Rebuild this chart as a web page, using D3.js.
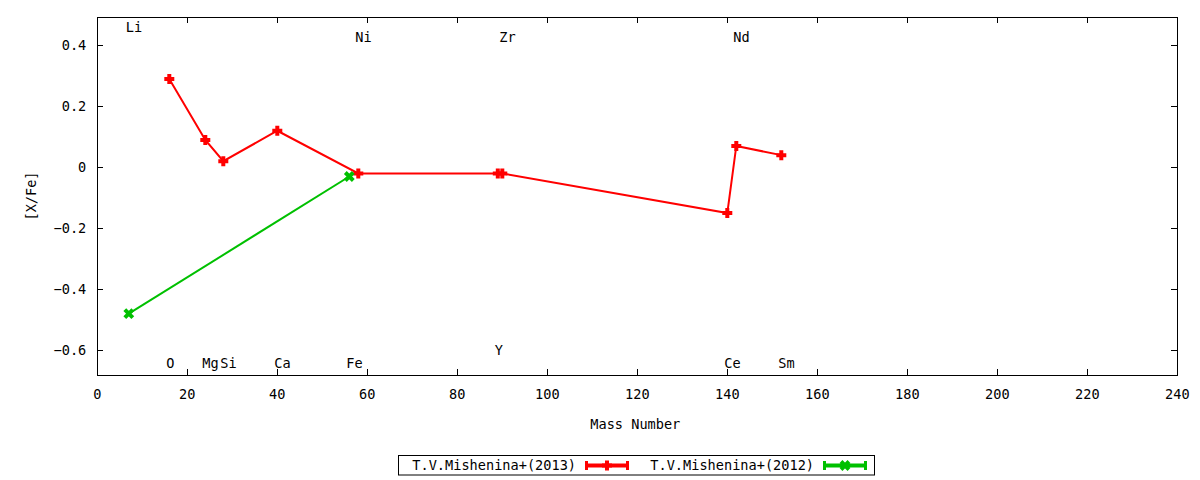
<!DOCTYPE html>
<html lang="en">
<head>
  <meta charset="UTF-8">
  <title>[X/Fe] vs Mass Number</title>
  <script src="https://d3js.org/d3.v7.min.js"></script>
  <style>
    body { margin: 0; background: white; }
    text { font-family: "DejaVu Sans Mono", monospace; font-size: 13.6px; fill: black; }
  </style>
</head>
<body>
  <script>
    // data
    var redMass = [16, 24, 28, 40, 58, 89, 90, 140, 142, 152];
    var redVal = [0.29, 0.09, 0.02, 0.12, -0.02, -0.02, -0.02, -0.15, 0.07, 0.04];
    var greenMass = [7, 56];
    var greenVal = [-0.48, -0.03];

    // element labels (mass, height in data units)
    var elemNames = ["Li", "O", "Mg", "Si", "Ca", "Fe", "Ni", "Y", "Zr", "Ce", "Nd", "Sm"];
    var elemMass = [7, 16, 24, 28, 40, 56, 58, 89, 90, 140, 142, 152];
    var elemY = [0.458, -0.643, -0.643, -0.643, -0.643, -0.643, 0.427, -0.599, 0.427, -0.643, 0.427, -0.643];

    var xTicks = d3.range(0, 241, 20);
    var yTicks = [-0.6, -0.4, -0.2, 0, 0.2, 0.4];
    var legendNames = ["T.V.Mishenina+(2013)", "T.V.Mishenina+(2012)"];

    var width = 1200, height = 480;
    var margin = { top: 17, left: 97.3, right: 22.7, bottom: 105 };
    var red = "#ff0000", green = "#00c000";

    var svg = d3.select("body").append("svg")
      .attr("width", width)
      .attr("height", height);

    var x = d3.scaleLinear().domain([0, 240]).range([margin.left, width - margin.right]);
    var y = d3.scaleLinear().domain([-0.681, 0.493]).range([height - margin.bottom, margin.top]);

    var x0 = x.range()[0], x1 = x.range()[1];
    var y0 = y.range()[0], y1 = y.range()[1];

    // ticks (inward, mirrored)
    var tl = 6;
    var g = svg.append("g").attr("stroke", "black").attr("stroke-width", 1).attr("shape-rendering", "crispEdges");
    xTicks.forEach(function (t) {
      g.append("line").attr("x1", x(t)).attr("x2", x(t)).attr("y1", y0).attr("y2", y0 - tl);
      g.append("line").attr("x1", x(t)).attr("x2", x(t)).attr("y1", y1).attr("y2", y1 + tl);
    });
    yTicks.forEach(function (t) {
      g.append("line").attr("x1", x0).attr("x2", x0 + tl).attr("y1", y(t)).attr("y2", y(t));
      g.append("line").attr("x1", x1).attr("x2", x1 - tl).attr("y1", y(t)).attr("y2", y(t));
    });
    g.append("rect")
      .attr("x", x0).attr("y", y1)
      .attr("width", x1 - x0).attr("height", y0 - y1)
      .attr("fill", "none");

    svg.selectAll(".xt").data(xTicks).enter().append("text")
      .attr("x", function (d) { return x(d); })
      .attr("y", y0 + 19)
      .attr("dy", "0.35em")
      .attr("text-anchor", "middle")
      .text(function (d) { return d; });

    svg.selectAll(".yt").data(yTicks).enter().append("text")
      .attr("x", x0 - 11)
      .attr("y", function (d) { return y(d); })
      .attr("dy", "0.35em")
      .attr("text-anchor", "end")
      .text(function (d) { return d === 0 ? "0" : d3.format(".1f")(d); });

    // axis titles
    svg.append("text")
      .attr("x", (x0 + x1) / 2 - 2)
      .attr("y", 424)
      .attr("dy", "0.35em")
      .attr("text-anchor", "middle")
      .text("Mass Number");
    svg.append("text")
      .attr("transform", "translate(31," + ((y0 + y1) / 2) + ") rotate(-90)")
      .attr("dy", "0.35em")
      .attr("text-anchor", "middle")
      .text("[X/Fe]");

    // element labels
    svg.selectAll(".el").data(elemNames).enter().append("text")
      .attr("x", function (d, i) { return x(elemMass[i]) - 3; })
      .attr("y", function (d, i) { return y(elemY[i]); })
      .attr("dy", "0.35em")
      .attr("text-anchor", "start")
      .text(function (d) { return d; });

    // markers
    function plus(sel, cx, cy, color) {
      sel.append("path")
        .attr("d", "M" + (cx - 5) + "," + cy + "H" + (cx + 5) + "M" + cx + "," + (cy - 5) + "V" + (cy + 5))
        .attr("stroke", color).attr("stroke-width", 4).attr("fill", "none");
    }
    function cross(sel, cx, cy, color) {
      sel.append("path")
        .attr("d", "M" + (cx - 4) + "," + (cy - 4) + "L" + (cx + 4) + "," + (cy + 4) +
          "M" + (cx - 4) + "," + (cy + 4) + "L" + (cx + 4) + "," + (cy - 4))
        .attr("stroke", color).attr("stroke-width", 4).attr("fill", "none");
    }

    var line = d3.line()
      .x(function (d) { return x(d[0]); })
      .y(function (d) { return y(d[1]); });

    var redPts = d3.zip(redMass, redVal);
    var greenPts = d3.zip(greenMass, greenVal);

    var plot = svg.append("g");
    plot.append("path").datum(redPts).attr("d", line)
      .attr("fill", "none").attr("stroke", red).attr("stroke-width", 2);
    redPts.forEach(function (p) { plus(plot, x(p[0]), y(p[1]), red); });

    plot.append("path").datum(greenPts).attr("d", line)
      .attr("fill", "none").attr("stroke", green).attr("stroke-width", 2);
    greenPts.forEach(function (p) { cross(plot, x(p[0]), y(p[1]), green); });

    // legend
    var leg = svg.append("g");
    leg.append("rect")
      .attr("x", 398.5).attr("y", 455.5).attr("width", 476).attr("height", 19.5)
      .attr("fill", "none").attr("stroke", "black").attr("stroke-width", 1);
    var legTextEnd = [576, 814];
    var legSample = [[585, 629], [823, 867]];
    var legColors = [red, green];
    var ly = 465.5;
    legendNames.forEach(function (name, i) {
      leg.append("text")
        .attr("x", legTextEnd[i]).attr("y", ly)
        .attr("dy", "0.35em")
        .attr("text-anchor", "end")
        .text(name);
      var a = legSample[i][0], b = legSample[i][1], c = legColors[i];
      leg.append("line").attr("x1", a).attr("x2", b).attr("y1", ly).attr("y2", ly)
        .attr("stroke", c).attr("stroke-width", 4);
      leg.append("line").attr("x1", a + 1.5).attr("x2", a + 1.5).attr("y1", ly - 4.5).attr("y2", ly + 4.5)
        .attr("stroke", c).attr("stroke-width", 3);
      leg.append("line").attr("x1", b - 1.5).attr("x2", b - 1.5).attr("y1", ly - 4.5).attr("y2", ly + 4.5)
        .attr("stroke", c).attr("stroke-width", 3);
      if (i === 0) plus(leg, (a + b) / 2, ly, c);
      else cross(leg, (a + b) / 2, ly, c);
    });
  </script>
</body>
</html>
